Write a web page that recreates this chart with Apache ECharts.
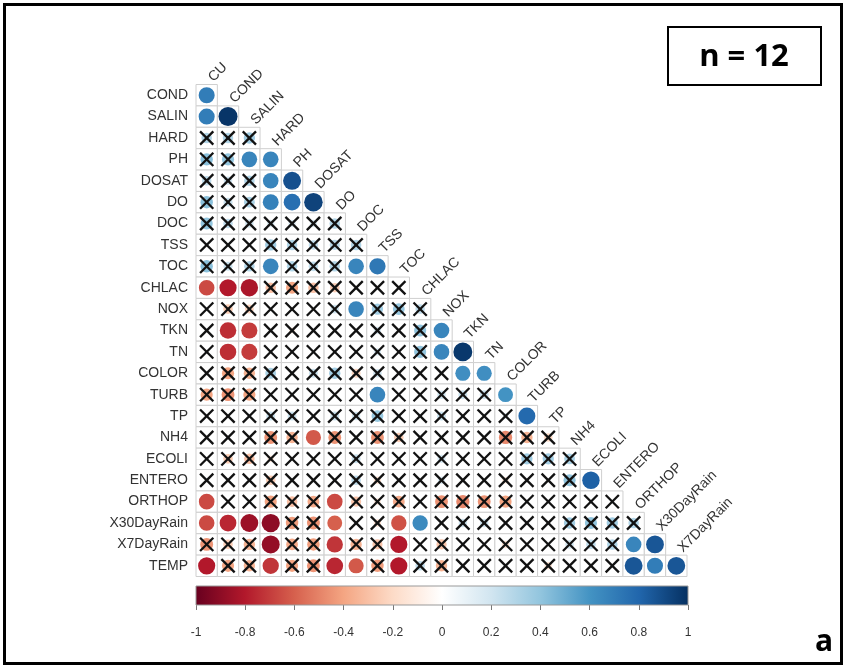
<!DOCTYPE html>
<html><head><meta charset="utf-8">
<script src="https://cdn.jsdelivr.net/npm/echarts@6/dist/echarts.min.js"></script>
<style>html,body{margin:0;padding:0;background:#fff}#c{width:843px;height:665px}</style>
</head><body><div id="c"></div>
<script>
// Variables (corrplot, lower triangle)
const variables = ["CU","COND","SALIN","HARD","PH","DOSAT","DO","DOC","TSS","TOC","CHLAC","NOX","TKN","TN","COLOR","TURB","TP","NH4","ECOLI","ENTERO","ORTHOP","X30DayRain","X7DayRain","TEMP"];
const colLabels = variables.slice(0, 23);
const rowLabels = variables.slice(1);

// correlation of each row variable with the column variables CU..(previous)
const r_COND   = [0.70];
const r_SALIN  = [0.70, 0.98];
const r_HARD   = [0.30, 0.30, 0.35];
const r_PH     = [0.42, 0.40, 0.66, 0.66];
const r_DOSAT  = [0.25, 0.20, 0.30, 0.66, 0.88];
const r_DO     = [0.42, 0.22, 0.32, 0.68, 0.76, 0.93];
const r_DOC    = [0.40, 0.25, 0.20, 0.15, 0.15, 0.15, 0.30];
const r_TSS    = [0.05, 0.05, 0.05, 0.35, 0.30, 0.25, 0.28, 0.30];
const r_TOC    = [0.42, 0.22, 0.30, 0.66, 0.30, 0.25, 0.30, 0.66, 0.72];
const r_CHLAC  = [-0.66, -0.80, -0.82, -0.30, -0.40, -0.30, -0.25, -0.05, -0.05, 0.05];
const r_NOX    = [0.05, -0.25, -0.22, 0.05, 0.05, 0.05, 0.20, 0.66, 0.35, 0.38, 0.25];
const r_TKN    = [0.05, -0.74, -0.70, 0.05, -0.10, 0.05, 0.05, 0.05, 0.15, 0.05, 0.40, 0.66];
const r_TN     = [0.05, -0.74, -0.70, 0.05, -0.05, 0.05, 0.05, 0.05, 0.15, 0.05, 0.40, 0.66, 0.97];
const r_COLOR  = [0.05, -0.40, -0.35, 0.32, 0.05, 0.22, 0.35, -0.22, 0.20, 0.05, 0.05, 0.05, 0.62, 0.62];
const r_TURB   = [-0.40, -0.45, -0.40, 0.05, 0.05, 0.05, 0.05, 0.05, 0.66, 0.05, 0.05, 0.20, 0.22, 0.22, 0.60];
const r_TP     = [0.05, 0.05, 0.05, 0.22, 0.22, 0.05, 0.22, 0.20, 0.38, 0.05, 0.05, 0.22, 0.05, 0.05, 0.10, 0.78];
const r_NH4    = [0.05, 0.05, 0.05, -0.45, -0.35, -0.62, -0.45, 0.05, -0.45, -0.25, 0.05, 0.05, 0.05, 0.05, -0.48, -0.35, -0.20];
const r_ECOLI  = [0.05, -0.25, -0.30, -0.12, 0.05, 0.05, 0.05, 0.22, 0.05, 0.05, 0.05, 0.18, 0.05, 0.05, 0.05, 0.35, 0.35, 0.32];
const r_ENTERO = [0.05, 0.05, 0.05, -0.25, 0.05, 0.05, 0.05, 0.25, -0.15, 0.05, 0.05, 0.15, 0.05, 0.05, -0.12, 0.05, 0.05, 0.40, 0.82];
const r_ORTHOP = [-0.66, 0.05, 0.05, -0.40, -0.30, -0.38, -0.66, -0.28, -0.12, -0.38, 0.05, -0.45, -0.48, -0.45, -0.40, 0.05, 0.05, 0.05, 0.05, 0.05];
const r_X30DayRain = [-0.66, -0.76, -0.86, -0.90, -0.42, -0.45, -0.60, 0.05, -0.15, -0.64, 0.64, 0.05, 0.20, 0.20, 0.05, 0.05, 0.05, 0.35, 0.40, 0.35, 0.30];
const r_X7DayRain  = [-0.45, -0.25, -0.35, -0.88, -0.38, -0.42, -0.72, -0.35, -0.28, -0.80, 0.05, -0.28, 0.05, 0.05, -0.15, 0.05, 0.05, 0.20, 0.25, 0.30, 0.66, 0.86];
const r_TEMP   = [-0.80, -0.40, -0.35, -0.72, -0.40, -0.45, -0.76, -0.62, -0.42, -0.80, 0.25, -0.35, 0.05, 0.05, 0.05, 0.05, -0.15, 0.05, 0.05, 0.05, 0.86, 0.70, 0.86];

const rowValues = [r_COND, r_SALIN, r_HARD, r_PH, r_DOSAT, r_DO, r_DOC, r_TSS, r_TOC, r_CHLAC, r_NOX, r_TKN, r_TN, r_COLOR, r_TURB, r_TP, r_NH4, r_ECOLI, r_ENTERO, r_ORTHOP, r_X30DayRain, r_X7DayRain, r_TEMP];

const colorbarTicks = [-1, -0.8, -0.6, -0.4, -0.2, 0, 0.2, 0.4, 0.6, 0.8, 1];
const palette = ["#67001F","#B2182B","#D6604D","#F4A582","#FDDBC7","#FFFFFF","#D1E5F0","#92C5DE","#4393C3","#2166AC","#053061"];
const sampleSize = 12;
const rCrit = 0.576; // |r| needed for p < 0.05 with n = 12

const cellData = [];
rowValues.forEach((vals, r) => vals.forEach((v, c) => cellData.push([c, r, v])));
const labelData = colLabels.map((name, j) => [j, j, name]);

const FONT = '"Liberation Sans", Arial, sans-serif';
const chart = echarts.init(document.getElementById('c'));
chart.setOption({
  animation: false,
  backgroundColor: '#fff',
  grid: [
    {left: 196, top: 84.5, width: 491, height: 492, outerBoundsMode: 'none'},
    {left: 196, top: 586, width: 492, height: 19, outerBoundsMode: 'none'}
  ],
  xAxis: [
    {gridIndex: 0, type: 'category', data: colLabels, show: false, position: 'top'},
    {gridIndex: 1, type: 'value', min: -1, max: 1, interval: 0.2, position: 'bottom',
      axisLine: {show: false}, splitLine: {show: false},
      axisTick: {show: true, length: 5, lineStyle: {color: '#777'}},
      axisLabel: {fontSize: 12, color: '#333', margin: 22, fontFamily: FONT}}
  ],
  yAxis: [
    {gridIndex: 0, type: 'category', data: rowLabels, inverse: true,
      axisLine: {show: false}, axisTick: {show: false}, splitLine: {show: false},
      axisLabel: {interval: 0, fontSize: 14, color: '#333', margin: 8, fontFamily: FONT}},
    {gridIndex: 1, type: 'value', min: 0, max: 1, show: false}
  ],
  visualMap: {type: 'continuous', show: false, min: -1, max: 1, dimension: 2, seriesIndex: 0,
    inRange: {color: palette}},
  series: [
    {type: 'custom', xAxisIndex: 0, yAxisIndex: 0, data: cellData,
      renderItem: function (params, api) {
        const c = api.value(0), r = api.value(1), v = api.value(2);
        const p = api.coord([c, r]);
        const s = api.size([1, 1]);
        const w = s[0], h = s[1];
        const ch = [{type: 'rect', shape: {x: p[0] - w / 2, y: p[1] - h / 2, width: w, height: h},
          style: {fill: '#fff', stroke: '#cfcfcf', lineWidth: 1}}];
        const rad = 0.45 * Math.sqrt(Math.abs(v)) * Math.min(w, h);
        ch.push({type: 'circle', shape: {cx: p[0], cy: p[1], r: rad}, style: {fill: api.visual('color')}});
        if (Math.abs(v) < rCrit) {
          const d = 0.31 * Math.min(w, h);
          ch.push({type: 'line', shape: {x1: p[0] - d, y1: p[1] - d, x2: p[0] + d, y2: p[1] + d}, style: {stroke: '#111', lineWidth: 2.3}});
          ch.push({type: 'line', shape: {x1: p[0] - d, y1: p[1] + d, x2: p[0] + d, y2: p[1] - d}, style: {stroke: '#111', lineWidth: 2.3}});
        }
        return {type: 'group', children: ch};
      }},
    {type: 'custom', xAxisIndex: 0, yAxisIndex: 0, data: labelData, silent: true,
      renderItem: function (params, api) {
        const j = api.value(0);
        const p = api.coord([j, j]);
        const s = api.size([1, 1]);
        return {type: 'text', x: p[0] + 4, y: p[1] - s[1] / 2 - 5, rotation: Math.PI / 4,
          style: {text: colLabels[j], fill: '#333', font: '14px ' + FONT, align: 'left', verticalAlign: 'middle'}};
      }},
    {type: 'custom', xAxisIndex: 1, yAxisIndex: 1, silent: true,
      data: [[colorbarTicks[0], colorbarTicks[colorbarTicks.length - 1]]],
      renderItem: function (params, api) {
        const p0 = api.coord([api.value(0), 1]);
        const p1 = api.coord([api.value(1), 0]);
        const stops = palette.map((col, i) => ({offset: i / (palette.length - 1), color: col}));
        return {type: 'rect', shape: {x: p0[0], y: p0[1], width: p1[0] - p0[0], height: p1[1] - p0[1]},
          style: {fill: new echarts.graphic.LinearGradient(0, 0, 1, 0, stops), stroke: '#999', lineWidth: 1}};
      }}
  ],
  graphic: [
    {type: 'rect', left: 2, top: 2, shape: {width: 837, height: 659}, style: {fill: 'none', stroke: '#000', lineWidth: 3}, silent: true},
    {type: 'rect', shape: {x: 668, y: 27, width: 153, height: 58}, style: {fill: '#fff', stroke: '#000', lineWidth: 2}},
    {type: 'text', x: 744, y: 57, style: {text: 'n = ' + sampleSize, font: 'bold 31px "Open Sans", "Liberation Sans", sans-serif', fill: '#000', align: 'center', verticalAlign: 'middle'}},
    {type: 'text', x: 824, y: 642, style: {text: 'a', font: 'bold 30px "Open Sans", "Liberation Sans", sans-serif', fill: '#000', align: 'center', verticalAlign: 'middle'}}
  ]
});
</script></body></html>
